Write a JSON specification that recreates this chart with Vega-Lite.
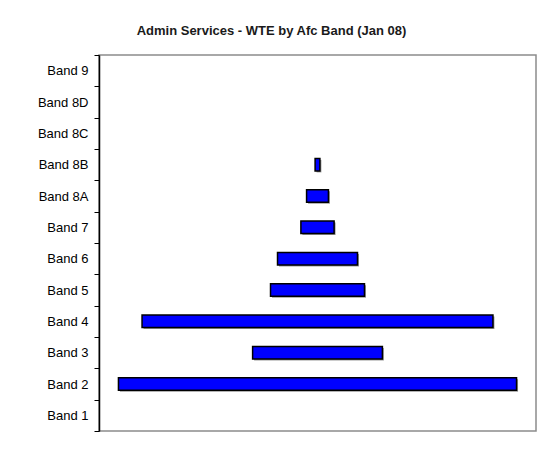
{
  "$schema": "https://vega.github.io/schema/vega-lite/v6.json",
  "width": 437,
  "height": 376,
  "autosize": {"type": "none"},
  "padding": {"left": 99, "top": 55, "right": 7, "bottom": 33},
  "background": "white",
  "title": {
    "text": "Admin Services - WTE by Afc Band (Jan 08)",
    "font": "Liberation Sans",
    "fontSize": 13,
    "fontWeight": "bold",
    "color": "#1a1a1a",
    "anchor": "middle",
    "dx": -46,
    "dy": 4,
    "baseline": "alphabetic",
    "offset": 5
  },
  "data": {
    "values": [
      {"band": "Band 2", "wte": 91.1},
      {"band": "Band 3", "wte": 29.7},
      {"band": "Band 4", "wte": 80.3},
      {"band": "Band 5", "wte": 21.5},
      {"band": "Band 6", "wte": 18.3},
      {"band": "Band 7", "wte": 7.6},
      {"band": "Band 8A", "wte": 5.0},
      {"band": "Band 8B", "wte": 1.1}
    ]
  },
  "encoding": {
    "y": {
      "field": "band",
      "type": "nominal",
      "sort": ["Band 9", "Band 8D", "Band 8C", "Band 8B", "Band 8A", "Band 7", "Band 6", "Band 5", "Band 4", "Band 3", "Band 2", "Band 1"],
      "scale": {
        "domain": ["Band 9", "Band 8D", "Band 8C", "Band 8B", "Band 8A", "Band 7", "Band 6", "Band 5", "Band 4", "Band 3", "Band 2", "Band 1"],
        "paddingInner": 0,
        "paddingOuter": 0
      },
      "axis": {
        "title": null,
        "domainColor": "#000000",
        "domainWidth": 1.5,
        "tickColor": "#000000",
        "tickSize": 5,
        "tickWidth": 1,
        "tickBand": "extent",
        "labelFont": "Liberation Sans",
        "labelFontSize": 13,
        "labelColor": "#000000",
        "labelPadding": 6,
        "grid": false
      }
    },
    "x": {
      "field": "wte",
      "type": "quantitative",
      "stack": "center",
      "scale": {"domain": [-4.45, 95.55], "nice": false, "zero": false},
      "axis": null
    }
  },
  "layer": [
    {
      "mark": {"type": "bar", "color": "#9a9a9a", "height": 12.5, "xOffset": 1.5, "yOffset": 1.5, "cornerRadius": 0}
    },
    {
      "mark": {"type": "bar", "fill": "#0000ff", "stroke": "#000000", "strokeWidth": 1.5, "height": 12.5, "cornerRadius": 0}
    }
  ],
  "config": {
    "view": {"stroke": "#8c8c8c", "strokeWidth": 1.5}
  }
}
